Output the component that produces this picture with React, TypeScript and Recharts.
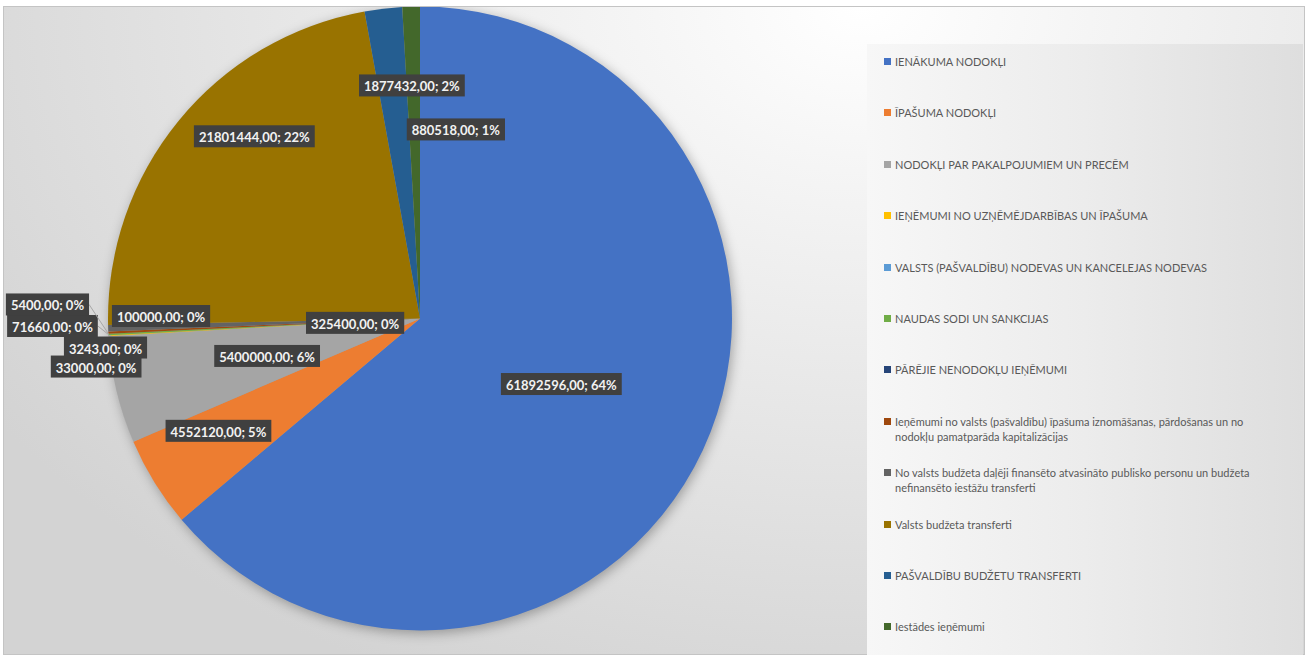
import React from "react"
import { PieChart, Pie, Cell, Legend } from "recharts"

const categories = [
  "IENĀKUMA NODOKĻI",
  "ĪPAŠUMA NODOKĻI",
  "NODOKĻI PAR PAKALPOJUMIEM UN PRECĒM",
  "IEŅĒMUMI NO UZŅĒMĒJDARBĪBAS UN ĪPAŠUMA",
  "VALSTS (PAŠVALDĪBU) NODEVAS UN KANCELEJAS NODEVAS",
  "NAUDAS SODI UN SANKCIJAS",
  "PĀRĒJIE NENODOKĻU IEŅĒMUMI",
  "Ieņēmumi no valsts (pašvaldību) īpašuma iznomāšanas, pārdošanas un no nodokļu pamatparāda kapitalizācijas",
  "No valsts budžeta daļēji finansēto atvasināto publisko personu un budžeta nefinansēto iestāžu transferti",
  "Valsts budžeta transferti",
  "PAŠVALDĪBU BUDŽETU TRANSFERTI",
  "Iestādes ieņēmumi",
]

const values = [61892596, 4552120, 5400000, 33000, 3243, 71660, 5400, 100000, 325400, 21801444, 1877432, 880518]

const colors = [
  "#4472C4", "#ED7D31", "#A5A5A5", "#FFC000", "#5B9BD5", "#70AD47",
  "#264478", "#9E480E", "#636363", "#997300", "#255E91", "#43682B",
]

// where each data label sits, as a fraction of the radius from the centre
const labelSpots: [number, number][] = [
  [0.453, 0.21], [-0.646, 0.36], [-0.49, 0.12], [-1.038, 0.154],
  [-1.008, 0.093], [-1.178, 0.024], [-1.194, -0.045], [-0.83, -0.008],
  [-0.208, 0.014], [-0.531, -0.584], [-0.026, -0.747], [0.115, -0.606],
]
// slices too thin to hold their label get a leader line
const leaderLines = [3, 4, 5, 6]

const data = categories.map((name, i) => ({ name, value: values[i] }))

const LABEL_FONT = "bold 13px Lato"
let measureCtx: CanvasRenderingContext2D | null = null
function textWidth(s: string) {
  if (!measureCtx) measureCtx = document.createElement("canvas").getContext("2d")
  if (!measureCtx) return s.length * 7
  measureCtx.font = LABEL_FONT
  return measureCtx.measureText(s).width
}

const RAD = Math.PI / 180

function renderLabel(props: any) {
  const { cx, cy, outerRadius, midAngle, index, value, percent } = props
  const text = `${value},00; ${Math.round(percent * 100)}%`
  const [fx, fy] = labelSpots[index]
  const x = cx + fx * outerRadius
  const y = cy + fy * outerRadius
  const w = textWidth(text) + 10
  const h = 22
  let line = null
  if (leaderLines.includes(index)) {
    const sx = cx + outerRadius * Math.cos(-midAngle * RAD)
    const sy = cy + outerRadius * Math.sin(-midAngle * RAD)
    line = <line x1={x + w / 2} y1={y} x2={sx} y2={sy} stroke="#a6a6a6" strokeWidth={1} />
  }
  return (
    <g key={`label-${index}`}>
      {line}
      <rect x={x - w / 2} y={y - h / 2} width={w} height={h} fill="#404040" />
      <text
        x={x}
        y={y + 1}
        textAnchor="middle"
        dominantBaseline="central"
        fill="#f2f2f2"
        style={{ font: LABEL_FONT }}
      >
        {text}
      </text>
    </g>
  )
}

function renderLegend() {
  return (
    <div
      style={{
        width: 436,
        height: 611,
        boxSizing: "border-box",
        paddingTop: 10,
        background: "linear-gradient(to right, #f7f7f7 0%, #ececec 50%, #dedede 100%)",
        fontFamily: "Lato",
        fontSize: 11,
        lineHeight: "15px",
        color: "#595959",
      }}
    >
      {categories.map((name, i) => (
        <div key={name} style={{ display: "flex", alignItems: "flex-start", height: 51.4 }}>
          <div
            style={{
              width: 7,
              height: 7,
              marginLeft: 17,
              marginTop: 4,
              background: colors[i],
              flex: "none",
            }}
          />
          <div style={{ marginLeft: 4, width: 370 }}>{name}</div>
        </div>
      ))}
    </div>
  )
}

export default function App() {
  return (
    <div
      style={{
        position: "absolute",
        left: 3,
        top: 6,
        width: 1302,
        height: 649,
        boxSizing: "border-box",
        border: "1px solid #c4c4c4",
        background: "radial-gradient(ellipse 80% 115% at 66% 0%, #ffffff 0%, #f5f5f5 22%, #d3d3d3 100%)",
      }}
    >
      <style>{`.recharts-pie { filter: drop-shadow(2px 3px 6px rgba(0,0,0,0.3)); }`}</style>
      <PieChart width={1300} height={647} margin={{ top: 0, right: 0, bottom: 0, left: 0 }}>
        <Pie
          data={data}
          dataKey="value"
          nameKey="name"
          cx={416}
          cy={311.5}
          outerRadius={312}
          startAngle={90}
          endAngle={-270}
          stroke="none"
          label={renderLabel}
          labelLine={false}
          isAnimationActive={false}
        >
          {data.map((entry, index) => (
            <Cell key={`cell-${index}`} fill={colors[index]} />
          ))}
        </Pie>
        <Legend
          content={renderLegend}
          wrapperStyle={{ position: "absolute", left: 863, top: 37, width: 436, height: 611 }}
        />
      </PieChart>
    </div>
  )
}
